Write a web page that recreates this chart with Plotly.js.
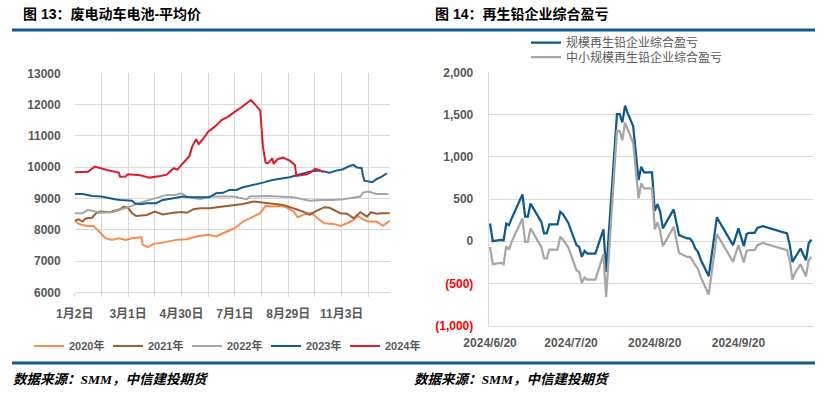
<!DOCTYPE html>
<html><head><meta charset="utf-8">
<script src="https://cdn.plot.ly/plotly-3.0.1.min.js"></script>
<style>html,body{margin:0;padding:0;background:#fff}#chart{width:824px;height:396px}</style>
</head><body><div id="chart"></div>
<script>
// ---------- Left chart: 废电动车电池-平均价 (x = trading-day index within year) ----------
const leftTickVals = [0,20,40,60,80,100,120,140,160,180,200,220];
const leftTickText = ['1月2日','','3月1日','','4月30日','','7月1日','','8月29日','','11月3日',''];

const idx2020 = [0,3,9,14,19,23,28,33,38,43,50,51,55,59,65,71,76,84,91,100,106,114,120,126,134,139,143,148,154,159,164,167,171,177,182,187,194,199,204,209,212,216,220,226,231,236];
const val2020 = [8292,8187,8123,8123,7910,7730,7676,7730,7676,7730,7762,7516,7442,7548,7580,7622,7676,7698,7783,7836,7783,7942,8049,8260,8420,8528,8762,8740,8762,8708,8580,8400,8474,8540,8368,8208,8187,8123,8208,8315,8442,8330,8260,8260,8123,8292];

const idx2021 = [0,3,6,8,13,16,19,26,34,37,40,43,46,54,60,66,74,80,84,89,94,101,114,126,134,141,146,156,166,171,176,180,187,191,199,204,209,214,219,222,226,230,236];
const val2021 = [8292,8330,8260,8360,8380,8528,8580,8560,8656,8740,8700,8528,8442,8470,8580,8490,8540,8570,8540,8656,8688,8688,8762,8826,8900,8867,8826,8794,8656,8580,8474,8580,8720,8700,8528,8510,8368,8560,8420,8560,8510,8528,8528];

const idx2022 = [0,6,10,15,19,29,36,43,49,56,63,69,75,80,84,89,94,101,119,129,131,144,164,176,184,194,201,214,216,220,226,235];
const val2022 = [8528,8528,8634,8570,8540,8570,8656,8762,8867,8953,9060,9113,9113,9167,9060,9007,8976,9060,9060,8976,9060,9081,9040,8930,8950,8950,8976,9060,9187,9220,9145,9140];

const idx2023 = [0,6,13,20,30,34,43,45,49,54,61,66,74,81,86,94,101,106,111,116,121,126,134,141,148,155,161,169,176,183,186,191,196,201,206,209,211,215,216,217,223,226,230,234];
const val2023 = [9145,9140,9081,9060,8976,8950,8930,8848,8816,8848,8850,8953,9007,9060,9040,9040,9040,9167,9180,9273,9273,9359,9432,9506,9592,9646,9678,9774,9857,9889,9857,9825,9889,9934,10039,10071,9998,9966,9720,9570,9519,9614,9697,9806];

const idx2024 = [0,10,15,19,25,33,34,38,40,49,56,64,69,74,77,80,86,88,91,93,96,100,105,110,115,120,125,132,134,137,139,141,143,145,148,149,152,156,161,165,166,169,174,177,180,183,186];
const val2024 = [9838,9850,10017,9960,9900,9825,9697,9700,9774,9740,9666,9720,9760,9966,9920,10071,10360,10656,10892,10742,10892,11135,11295,11508,11614,11774,11914,12147,12061,11914,11806,10656,10145,10125,10285,10103,10253,10304,10208,10071,9720,9740,9774,9840,9943,9910,9838];

const leftNames = ['2020年','2021年','2022年','2023年','2024年'];

// ---------- Right chart: 再生铅企业综合盈亏 ----------
const rightDates = ['2024-06-20','2024-06-21','2024-06-24','2024-06-25','2024-06-26','2024-06-27','2024-06-28','2024-06-30','2024-07-02','2024-07-03','2024-07-04','2024-07-05','2024-07-08','2024-07-09','2024-07-10','2024-07-11','2024-07-12','2024-07-15','2024-07-16','2024-07-17','2024-07-19','2024-07-22','2024-07-23','2024-07-24','2024-07-25','2024-07-26','2024-07-29','2024-08-01','2024-08-02','2024-08-06','2024-08-07','2024-08-08','2024-08-09','2024-08-10','2024-08-12','2024-08-14','2024-08-15','2024-08-16','2024-08-19','2024-08-20','2024-08-21','2024-08-22','2024-08-23','2024-08-27','2024-08-29','2024-09-01','2024-09-02','2024-09-03','2024-09-04','2024-09-05','2024-09-06','2024-09-09','2024-09-12','2024-09-18','2024-09-20','2024-09-22','2024-09-23','2024-09-24','2024-09-26','2024-09-27','2024-09-29','2024-10-08','2024-10-09','2024-10-10','2024-10-11','2024-10-13','2024-10-15','2024-10-16','2024-10-17'];
const largeProfit = [210,0,15,10,210,190,270,420,555,290,290,446,296,230,92,92,200,200,348,320,217,-46,-66,-185,-114,-146,-146,140,-363,1506,1506,1407,1604,1514,1364,724,882,816,816,360,440,348,152,377,72,33,33,-7,-86,-126,-216,-414,282,-46,152,-58,84,100,100,158,178,92,-46,-244,-192,-86,-225,-27,20];
const smallProfit = [-66,-272,-256,-272,-58,-98,-7,140,270,-7,-7,152,0,-66,-204,-204,-98,-98,52,20,-74,-343,-363,-494,-430,-454,-454,-153,-659,1308,1304,1197,1403,1324,1166,507,685,625,625,140,223,124,-58,172,-138,-185,-185,-225,-284,-323,-422,-631,84,-244,-46,-251,-114,-106,-106,-46,-20,-106,-225,-454,-371,-272,-414,-225,-185];
const rightNames = ['规模再生铅企业综合盈亏','中小规模再生铅企业综合盈亏'];
const rightTickVals = ['2024-06-20','2024-07-20','2024-08-20','2024-09-20'];
const rightTickText = ['2024/6/20','2024/7/20','2024/8/20','2024/9/20'];
const rightYVals = [2000,1500,1000,500,0,-500,-1000];
const rightYText = ['2,000','1,500','1,000','500','0','<span style="color:#FF0000">(500)</span>','<span style="color:#FF0000">(1,000)</span>'];

const leftColors = ['#F98B4E','#9E5E2E','#A6A6A6','#165C8C','#E0192B'];
const W = 824, H = 396;
const px = x => x / W, py = y => 1 - y / H;

const FONT = 'Liberation Sans, Arial, Noto Sans CJK SC, sans-serif';
const GRAY = '#595959', GRID = '#D9D9D9';

const leftIdx = [idx2020, idx2021, idx2022, idx2023, idx2024];
const leftVal = [val2020, val2021, val2022, val2023, val2024];
const traces = leftNames.map((n, i) => ({
  type: 'scatter', mode: 'lines', name: n, x: leftIdx[i], y: leftVal[i],
  xaxis: 'x', yaxis: 'y', line: {color: leftColors[i], width: 2},
  legend: 'legend', hoverinfo: 'skip'
}));
traces.push({type:'scatter', mode:'lines', name: rightNames[0], x: rightDates, y: largeProfit,
  xaxis:'x2', yaxis:'y2', line:{color:'#0E5A8A', width:2.25}, legend:'legend2', hoverinfo:'skip'});
traces.push({type:'scatter', mode:'lines', name: rightNames[1], x: rightDates, y: smallProfit,
  xaxis:'x2', yaxis:'y2', line:{color:'#A6A6A6', width:2.25}, legend:'legend3', hoverinfo:'skip'});

const tickFont = {family: FONT, size: 12, color: GRAY, weight: 'bold'};

const layout = {
  width: W, height: H, margin: {l:0, r:0, t:0, b:0},
  paper_bgcolor: '#fff', plot_bgcolor: '#fff',
  showlegend: true,
  xaxis: {domain: [px(74.7), px(390)], range: [0, 236.2], tickmode: 'array',
    tickvals: leftTickVals, ticktext: leftTickText, showgrid: true, gridcolor: GRID, gridwidth: 1,
    ticks: 'outside', ticklen: 4, tickcolor: GRID, showline: true, linecolor: GRID, zeroline: false,
    tickfont: tickFont, ticklabelstandoff: 6, fixedrange: true},
  yaxis: {domain: [py(292.3), py(73.3)], range: [6000, 13000], dtick: 1000, tickformat: 'd',
    showgrid: true, gridcolor: GRID, zeroline: false, showline: false, ticks: '',
    tickfont: tickFont, ticklabelstandoff: 13, fixedrange: true},
  xaxis2: {domain: [px(488.7), px(812.7)], type: 'date', range: ['2024-06-19 12:00', '2024-10-17 12:00'],
    tickmode: 'array', tickvals: rightTickVals, ticktext: rightTickText, showgrid: false,
    showline: true, linecolor: GRID, ticks: '', zeroline: false, tickfont: tickFont,
    ticklabelstandoff: 6, anchor: 'y2', fixedrange: true},
  yaxis2: {domain: [py(325.7), py(72.3)], range: [-1000, 2000], tickmode: 'array',
    tickvals: rightYVals, ticktext: rightYText, showgrid: true, gridcolor: GRID, zeroline: false,
    showline: true, linecolor: GRID, ticks: '', tickfont: tickFont, ticklabelstandoff: 12,
    anchor: 'x2', fixedrange: true},
  legend: {orientation: 'h', x: px(29), xanchor: 'left', y: py(346), yanchor: 'middle',
    font: {family: FONT, size: 11, color: GRAY, weight: 'bold'}, entrywidth: 34, entrywidthmode: 'pixels',
    bgcolor: 'rgba(0,0,0,0)', itemclick: false, itemdoubleclick: false},
  legend2: {orientation: 'v', x: px(526), xanchor: 'left', y: py(42.7), yanchor: 'middle',
    font: {family: FONT, size: 12, color: GRAY}, bgcolor: 'rgba(0,0,0,0)', itemclick: false, itemdoubleclick: false},
  legend3: {orientation: 'v', x: px(526), xanchor: 'left', y: py(57), yanchor: 'middle',
    font: {family: FONT, size: 12, color: GRAY}, bgcolor: 'rgba(0,0,0,0)', itemclick: false, itemdoubleclick: false},
  shapes: [
    {type:'line', xref:'paper', yref:'paper', x0: px(12), x1: px(815), y0: py(30), y1: py(30), line:{color:'#155A8A', width:3}},
    {type:'line', xref:'paper', yref:'paper', x0: px(12), x1: px(815), y0: py(363), y1: py(363), line:{color:'#155A8A', width:3}}
  ],
  annotations: [
    {xref:'paper', yref:'paper', x: px(21), y: py(14), xanchor:'left', yanchor:'middle', showarrow:false,
      text:'图 13：废电动车电池-平均价', font:{family: FONT, size: 14, color:'#000', weight:'bold'}},
    {xref:'paper', yref:'paper', x: px(433), y: py(14), xanchor:'left', yanchor:'middle', showarrow:false,
      text:'图 14：再生铅企业综合盈亏', font:{family: FONT, size: 14, color:'#000', weight:'bold'}},
    {xref:'paper', yref:'paper', x: px(11), y: py(379), xanchor:'left', yanchor:'middle', showarrow:false,
      text:'<i>数据来源：SMM，中信建投期货</i>', font:{family: 'Liberation Serif, Noto Sans CJK SC, serif', size: 13.5, color:'#000', weight:'bold'}},
    {xref:'paper', yref:'paper', x: px(412), y: py(379), xanchor:'left', yanchor:'middle', showarrow:false,
      text:'<i>数据来源：SMM，中信建投期货</i>', font:{family: 'Liberation Serif, Noto Sans CJK SC, serif', size: 13.5, color:'#000', weight:'bold'}}
  ]
};

Plotly.newPlot('chart', traces, layout, {displayModeBar: false, staticPlot: true});
</script></body></html>
